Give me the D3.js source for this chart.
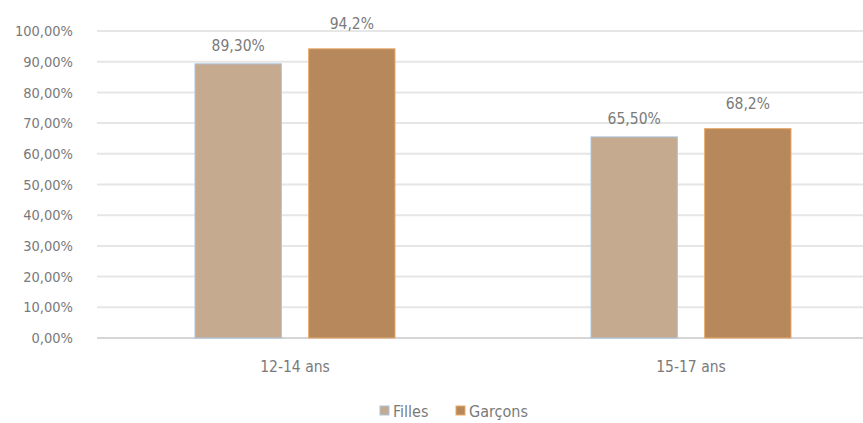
<!DOCTYPE html>
<html><head><meta charset="utf-8">
<script src="https://cdn.jsdelivr.net/npm/d3@7"></script>
<style>
body{margin:0;background:#fff;}
text{font-family:"DejaVu Sans Condensed","Roboto",sans-serif;fill:#7a7a7a;}
</style></head><body>
<svg id="c" width="863" height="423"></svg>
<script>
const categories = ["12-14 ans", "15-17 ans"];
const seriesNames = ["Filles", "Garçons"];
const filles = [89.3, 65.5];
const garcons = [94.2, 68.2];
const fillesLabels = ["89,30%", "65,50%"];
const garconsLabels = ["94,2%", "68,2%"];
const yTicks = [0,10,20,30,40,50,60,70,80,90,100];
const colors = ["#c6aa8f", "#b7885b"];
const strokes = ["#a9c4de", "#e8a96a"];

const svg = d3.select("#c");
const y = d3.scaleLinear().domain([0,100]).range([338, 31]);

// grid
svg.append("g").selectAll("line").data(yTicks).join("line")
  .attr("x1", 97).attr("x2", 863)
  .attr("y1", d=>y(d)).attr("y2", d=>y(d))
  .attr("stroke", d=> d===0 ? "#d6d6d6" : "#e6e6e6").attr("stroke-width", 2);

// y axis labels
const yAxis = d3.axisLeft(y).tickValues(yTicks).tickSize(0).tickPadding(0)
  .tickFormat(d => d.toFixed(2).replace(".", ",") + "%");
const ga = svg.append("g").attr("transform","translate(73,0)").call(yAxis);
ga.select(".domain").remove();
ga.selectAll("text").attr("font-size", 14.5).attr("fill","#7a7a7a")
  .style("font-family",'"DejaVu Sans Condensed",sans-serif');

const centers = [295, 691];
const x1 = d3.scaleBand().domain(seriesNames).range([-100, 100]).paddingInner(0.24).paddingOuter(0);
const data = [filles, garcons];
const labels = [fillesLabels, garconsLabels];
const labelGap = [13, 20];

seriesNames.forEach((s, si) => {
  const g = svg.append("g");
  categories.forEach((c, ci) => {
    const v = data[si][ci];
    const bx = centers[ci] + x1(s);
    g.append("rect").attr("x", bx).attr("y", y(v))
      .attr("width", x1.bandwidth()).attr("height", y(0) - y(v))
      .attr("fill", colors[si]).attr("stroke", strokes[si]).attr("stroke-width", 1);
    g.append("text").attr("x", bx + x1.bandwidth()/2).attr("y", y(v) - labelGap[si])
      .attr("text-anchor", "middle").attr("font-size", 15.5).attr("fill", "#777")
      .text(labels[si][ci]);
  });
});

// x labels
svg.append("g").selectAll("text").data(categories).join("text")
  .attr("x", (d,i)=>centers[i]).attr("y", 372).attr("text-anchor","middle")
  .attr("font-size", 15.5).attr("fill","#777").text(d=>d);

// legend
const leg = [{x:380, s:0},{x:456, s:1}];
leg.forEach(l => {
  svg.append("rect").attr("x", l.x).attr("y", 406).attr("width", 9).attr("height", 9)
    .attr("fill", colors[l.s]).attr("stroke", strokes[l.s]).attr("stroke-width", 1);
  svg.append("text").attr("x", l.x + 13).attr("y", 417).attr("font-size", 16)
    .attr("fill","#777").text(seriesNames[l.s]);
});
</script></body></html>
